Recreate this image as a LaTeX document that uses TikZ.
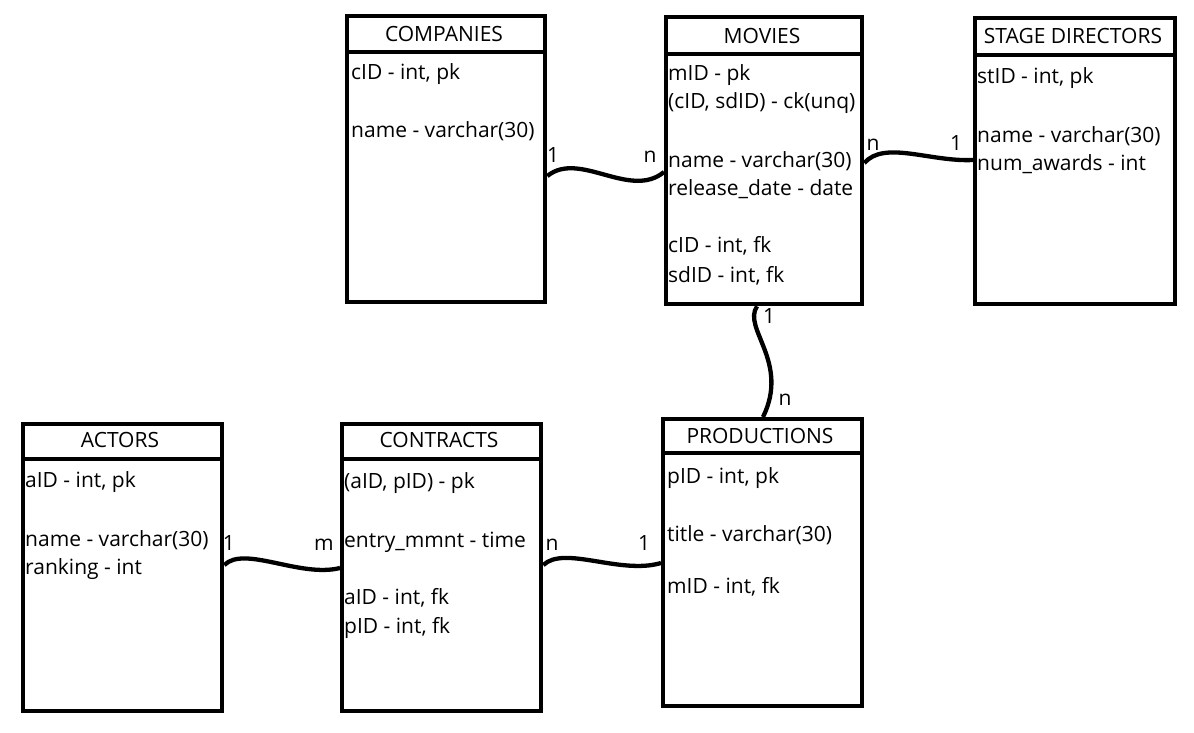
\documentclass[tikz,border=0pt]{standalone}
\usepackage{fontspec}
\setmainfont{Open Sans}
\usepackage{tikz}
\usetikzlibrary{calc}

\tikzset{
  tbl/.style={draw, line width=4.3pt, minimum width=#1, inner sep=0pt, anchor=north west},
  hdr/.style={anchor=base, inner sep=0pt, font=\fontsize{21}{21}\selectfont},
  attr/.style={anchor=base west, inner sep=0pt, font=\fontsize{21}{21}\selectfont},
  card/.style={anchor=base, inner sep=0pt, font=\fontsize{21}{21}\selectfont},
  rel/.style={line width=4.3pt},
}

\begin{document}
\begin{tikzpicture}[x=1pt,y=-1pt]
  \useasboundingbox (0,0) rectangle (1194,732);

  \node [tbl=198pt, minimum height=286pt] (companies) at (345,14) {};
  \draw [line width=4.3pt] ($(companies.north west)+(0,38)$) -- ($(companies.north east)+(0,38)$);
  \node [hdr] (companiesH) at (444,41) {COMPANIES};
  \node [attr] (companies1) at (351,79) {cID - int, pk};
  \node [attr] (companies2) at (351,137) {name - varchar(30)};

  \node [tbl=196pt, minimum height=287pt] (movies) at (664,15) {};
  \draw [line width=4.3pt] ($(movies.north west)+(0,39)$) -- ($(movies.north east)+(0,39)$);
  \node [hdr] (moviesH) at (762,43) {MOVIES};
  \node [attr] (movies1) at (668,80) {mID - pk};
  \node [attr] (movies2) at (668,108) {(cID, sdID) - ck(unq)};
  \node [attr] (movies3) at (668,167) {name - varchar(30)};
  \node [attr] (movies4) at (668,195) {release\_date - date};
  \node [attr] (movies5) at (668,252) {cID - int, fk};
  \node [attr] (movies6) at (668,282) {sdID - int, fk};

  \node [tbl=200pt, minimum height=286pt] (directors) at (973,16) {};
  \draw [line width=4.3pt] ($(directors.north west)+(0,39)$) -- ($(directors.north east)+(0,39)$);
  \node [hdr] (directorsH) at (1073,43) {STAGE DIRECTORS};
  \node [attr] (directors1) at (977,83) {stID - int, pk};
  \node [attr] (directors2) at (977,142) {name - varchar(30)};
  \node [attr] (directors3) at (977,170) {num\_awards - int};

  \node [tbl=199pt, minimum height=287pt] (actors) at (21,422) {};
  \draw [line width=4.3pt] ($(actors.north west)+(0,37)$) -- ($(actors.north east)+(0,37)$);
  \node [hdr] (actorsH) at (120,447) {ACTORS};
  \node [attr] (actors1) at (25,487) {aID - int, pk};
  \node [attr] (actors2) at (25,546) {name - varchar(30)};
  \node [attr] (actors3) at (25,574) {ranking - int};

  \node [tbl=199pt, minimum height=287pt] (contracts) at (340,422) {};
  \draw [line width=4.3pt] ($(contracts.north west)+(0,37)$) -- ($(contracts.north east)+(0,37)$);
  \node [hdr] (contractsH) at (439,447) {CONTRACTS};
  \node [attr] (contracts1) at (344,488) {(aID, pID) - pk};
  \node [attr] (contracts2) at (344,547) {entry\_mmnt - time};
  \node [attr] (contracts3) at (344,604) {aID - int, fk};
  \node [attr] (contracts4) at (344,633) {pID - int, fk};

  \node [tbl=199pt, minimum height=287pt] (productions) at (661,417) {};
  \draw [line width=4.3pt] ($(productions.north west)+(0,36)$) -- ($(productions.north east)+(0,36)$);
  \node [hdr] (productionsH) at (760,443) {PRODUCTIONS};
  \node [attr] (productions1) at (667,483) {pID - int, pk};
  \node [attr] (productions2) at (667,541) {title - varchar(30)};
  \node [attr] (productions3) at (667,593) {mID - int, fk};

  \draw [rel] ($(companies.north east)+(0,162)$) .. controls +(32,-26) and +(-34,28) .. ($(movies.north west)+(0,157)$);
  \draw [rel] ($(movies.north east)+(0,148)$) .. controls +(20,-23) and +(-43,2) .. ($(directors.north west)+(0,144)$);
  \draw [rel] ($(movies.south west)+(93,0)$) .. controls +(-15,22) and +(27,-55) .. ($(productions.north west)+(102,0)$);
  \draw [rel] ($(actors.north east)+(0,143)$) .. controls +(20,-20) and +(-40,10) .. ($(contracts.north west)+(0,146)$);
  \draw [rel] ($(contracts.north east)+(0,143)$) .. controls +(21,-20) and +(-41,12) .. ($(productions.north west)+(0,146)$);

  \node [card] (cm1) at (553,162) {1};
  \node [card] (cmn) at (650,162) {n};
  \node [card] (mdn) at (873,150) {n};
  \node [card] (md1) at (956,150) {1};
  \node [card] (mp1) at (769,323) {1};
  \node [card] (mpn) at (785,405) {n};
  \node [card] (ac1) at (229,550) {1};
  \node [card] (acm) at (324,550) {m};
  \node [card] (cpn) at (552,550) {n};
  \node [card] (cp1) at (644,550) {1};
\end{tikzpicture}
\end{document}
